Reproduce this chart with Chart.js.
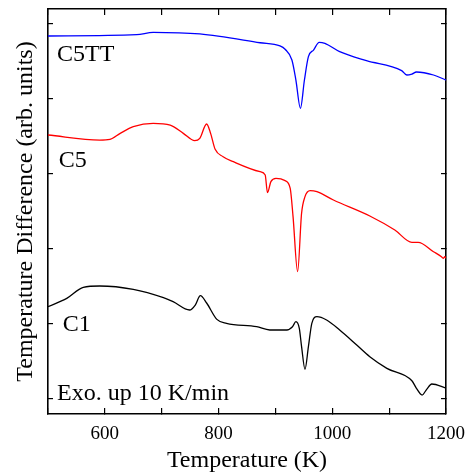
<!DOCTYPE html>
<html>
<head>
<meta charset="utf-8">
<script src="https://cdn.jsdelivr.net/npm/chart.js@4.4.1/dist/chart.umd.min.js"></script>
<style>
	html, body { margin: 0; padding: 0; background: #fff; }
	#wrap { width: 470px; height: 473px; }
</style>
</head>
<body>
<div id="wrap"><canvas id="chart-dta"></canvas></div>
<script>
'use strict';

//
// Data (temperature in K, signal in arbitrary units)
//

var c5ttT = [500, 656, 685, 767, 873, 908, 917, 929, 936, 944, 951, 958, 967, 977, 987, 1013, 1060, 1122, 1131, 1140, 1148, 1178, 1200];
var c5ttY = [4.84, 4.857, 4.889, 4.867, 4.75, 4.707, 4.663, 4.52, 4.253, 3.876, 4.253, 4.564, 4.653, 4.756, 4.742, 4.631, 4.511, 4.378, 4.32, 4.333, 4.36, 4.32, 4.253];

var c5T = [500, 591, 609, 627, 650, 685, 715, 738, 758, 767, 779, 786, 794, 808, 826, 873, 882, 886, 892, 901, 917, 926, 931, 939, 946, 952, 961, 973, 1002, 1066, 1110, 1140, 1151, 1178, 1192, 1195, 1198, 1200];
var c5Y = [3.52, 3.453, 3.462, 3.542, 3.631, 3.676, 3.653, 3.542, 3.444, 3.476, 3.667, 3.542, 3.329, 3.231, 3.164, 3.031, 2.987, 2.751, 2.898, 2.942, 2.911, 2.809, 2.431, 1.698, 2.476, 2.698, 2.778, 2.764, 2.653, 2.44, 2.253, 2.089, 2.089, 1.964, 1.897, 1.876, 1.897, 1.876];

var c1T = [500, 533, 562, 591, 650, 703, 720, 749, 759, 768, 779, 797, 814, 867, 890, 920, 930, 936, 942, 946, 952, 958, 964, 973, 990, 1013, 1043, 1066, 1096, 1140, 1148, 1158, 1166, 1175, 1200];
var c1Y = [1.231, 1.342, 1.489, 1.507, 1.462, 1.351, 1.298, 1.187, 1.253, 1.378, 1.28, 1.062, 1.009, 0.964, 0.92, 0.92, 0.964, 1.031, 0.942, 0.698, 0.396, 0.698, 1.009, 1.098, 1.053, 0.92, 0.72, 0.564, 0.409, 0.244, 0.142, 0.053, 0.129, 0.2, 0.145];

var xTicks = [500, 600, 700, 800, 900, 1000, 1100, 1200];
var xLabelTicks = [600, 800, 1000, 1200];
var yTicks = [0, 1, 2, 3, 4, 5];

var seriesNames = ['C5TT', 'C5', 'C1'];
var noteText = 'Exo. up 10 K/min';


//
// Helpers
//

function pairs(xs, ys) {
	return xs.map(function(x, i) { return { x: x, y: ys[i] }; });
}

function setTicks(list) {
	return function(scale) {
		scale.ticks = list.map(function(v) { return { value: v }; });
	};
}

var serif = 'Liberation Serif, Times New Roman, serif';

// curve labels, placed in data units
var curveNotes = [
	{ text: seriesNames[0], x: 516, y: 4.51 },
	{ text: seriesNames[1], x: 519, y: 3.09 },
	{ text: seriesNames[2], x: 526, y: 0.91 },
	{ text: noteText, x: 516, y: -0.01 }
];

var notesPlugin = {
	id: 'notes',
	afterDatasetsDraw: function(chart) {
		var ctx = chart.ctx;
		var xs = chart.scales.x, ys = chart.scales.y;
		ctx.save();
		ctx.fillStyle = '#000';
		ctx.font = '24px ' + serif;
		ctx.textBaseline = 'alphabetic';
		ctx.textAlign = 'left';
		curveNotes.forEach(function(n) {
			ctx.fillText(n.text, xs.getPixelForValue(n.x), ys.getPixelForValue(n.y));
		});
		ctx.restore();
	}
};


//
// Chart
//

var frame = { display: true, color: '#000', width: 1.6 };

var dtaChart = new Chart(document.getElementById('chart-dta'), {
	type: 'line',
	data: {
		datasets: [
			{ label: seriesNames[0], data: pairs(c5ttT, c5ttY), borderColor: '#0000ff' },
			{ label: seriesNames[1], data: pairs(c5T, c5Y), borderColor: '#ff0000' },
			{ label: seriesNames[2], data: pairs(c1T, c1Y), borderColor: '#000000' }
		]
	},
	options: {
		responsive: true,
		maintainAspectRatio: false,
		animation: false,
		layout: { padding: 0 },
		elements: {
			point: { radius: 0 },
			line: { borderWidth: 1.3, cubicInterpolationMode: 'monotone', fill: false }
		},
		plugins: {
			legend: { display: false },
			tooltip: { enabled: false }
		},
		scales: {
			x: {
				type: 'linear',
				position: 'bottom',
				min: 500,
				max: 1200,
				afterBuildTicks: setTicks(xTicks),
				afterFit: function(s) { s.height = 59; s.paddingLeft = 0; s.paddingRight = 0; },
				border: frame,
				grid: { drawOnChartArea: false, color: '#000', lineWidth: 1.2, tickLength: -6 },
				ticks: {
					autoSkip: false,
					maxRotation: 0,
					padding: 15,
					color: '#000',
					font: { family: serif, size: 19 },
					callback: function(v) { return xLabelTicks.indexOf(v) >= 0 ? String(v) : ''; }
				},
				title: {
					display: true,
					text: 'Temperature (K)',
					color: '#000',
					font: { family: serif, size: 24, lineHeight: 1 },
					padding: { top: 1, bottom: 0 }
				}
			},
			xTop: {
				type: 'linear',
				position: 'top',
				min: 500,
				max: 1200,
				afterBuildTicks: setTicks(xTicks),
				afterFit: function(s) { s.height = 9; s.paddingLeft = 0; s.paddingRight = 0; },
				border: frame,
				grid: { drawOnChartArea: false, color: '#000', lineWidth: 1.2, tickLength: -6 },
				ticks: { display: false }
			},
			y: {
				type: 'linear',
				position: 'left',
				min: -0.2,
				max: 5.2,
				afterBuildTicks: setTicks(yTicks),
				afterFit: function(s) { s.width = 48; s.paddingTop = 0; s.paddingBottom = 0; },
				border: frame,
				grid: { drawOnChartArea: false, color: '#000', lineWidth: 1.2, tickLength: -5 },
				ticks: { display: false },
				title: {
					display: true,
					text: 'Temperature Difference (arb. units)',
					color: '#000',
					font: { family: serif, size: 24, lineHeight: 1 },
					padding: { top: 14, bottom: 0 }
				}
			},
			yRight: {
				type: 'linear',
				position: 'right',
				min: -0.2,
				max: 5.2,
				afterBuildTicks: setTicks(yTicks),
				afterFit: function(s) { s.width = 24; s.paddingTop = 0; s.paddingBottom = 0; },
				border: frame,
				grid: { drawOnChartArea: false, color: '#000', lineWidth: 1.2, tickLength: -5 },
				ticks: { display: false }
			}
		}
	},
	plugins: [notesPlugin]
});
</script>
</body>
</html>
